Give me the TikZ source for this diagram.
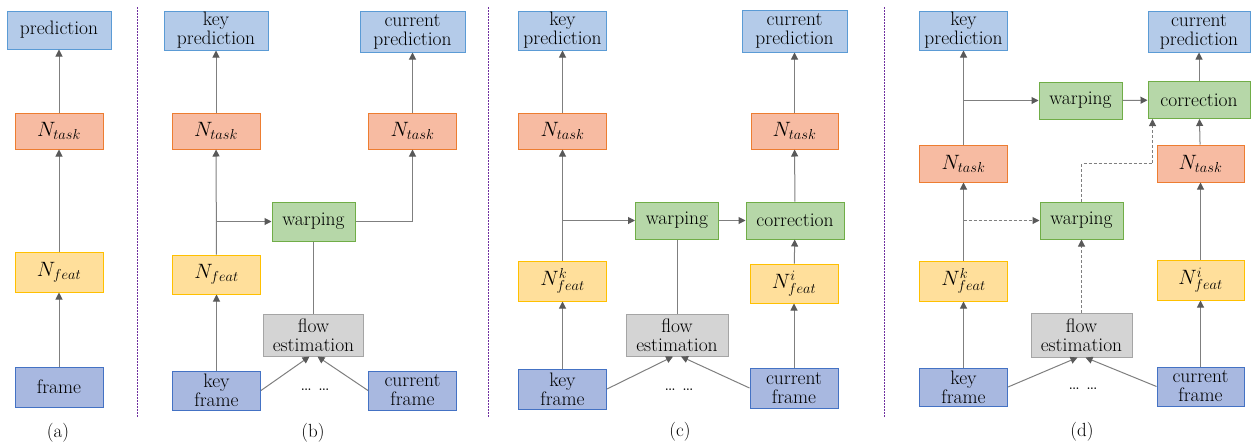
\documentclass[tikz,border=0pt]{standalone}
\usetikzlibrary{arrows.meta}

\definecolor{predfill}{HTML}{B4CBE9}
\definecolor{preddraw}{HTML}{5B9BD5}
\definecolor{taskfill}{HTML}{F7BBA2}
\definecolor{taskdraw}{HTML}{ED7D31}
\definecolor{featfill}{HTML}{FFDF9B}
\definecolor{featdraw}{HTML}{FFC000}
\definecolor{framefill}{HTML}{A8B8E0}
\definecolor{framedraw}{HTML}{4472C4}
\definecolor{warpfill}{HTML}{B6D7A8}
\definecolor{warpdraw}{HTML}{70AD47}
\definecolor{flowfill}{HTML}{D4D4D4}
\definecolor{flowdraw}{HTML}{A5A5A5}
\definecolor{linkgray}{HTML}{7F7F7F}
\definecolor{sepviolet}{HTML}{7030A0}

\tikzset{
	box/.style={draw, line width=1pt, minimum width=88, minimum height=38, inner sep=0pt, align=center, font=\rmfamily\fontsize{19.5}{19}\selectfont},
	predbox/.style={box, fill=predfill, draw=preddraw},
	taskbox/.style={box, fill=taskfill, draw=taskdraw},
	featbox/.style={box, fill=featfill, draw=featdraw},
	framebox/.style={box, fill=framefill, draw=framedraw},
	warpbox/.style={box, fill=warpfill, draw=warpdraw},
	flowbox/.style={box, fill=flowfill, draw=flowdraw},
	link/.style={line width=1pt, color=linkgray},
	arr/.style={link, -{Triangle[length=7pt,width=7pt,color=black!65]}},
	darr/.style={arr, dash pattern=on 3pt off 2pt},
	sepline/.style={line width=1pt, color=sepviolet, dash pattern=on 1.5pt off 1.5pt},
	caption/.style={font=\rmfamily\fontsize{19}{19}\selectfont},
	dotsnode/.style={font=\rmfamily\fontsize{20}{19}\selectfont}
}

\begin{document}
\begin{tikzpicture}[x=1pt, y=-1pt]
		%%%%% START %%%%%
		\useasboundingbox (0, 0) rectangle (1251, 445);
		
		% separators
		\draw[sepline] (137, 7) -- (137, 418);
		\draw[sepline] (488, 7) -- (488, 418);
		\draw[sepline] (884, 7) -- (884, 418);
		
		%%%%% (a) %%%%%
		\node[predbox, minimum width=104] (pa) at (59, 30) {prediction};
		\node[taskbox, minimum height=36] (ta) at (59, 131) {$N_{task}$};
		\node[featbox, minimum height=40] (fa) at (59, 272) {$N_{feat}$};
		\node[framebox, minimum height=40] (fra) at (59, 387) {frame};
		\node[caption] (capa) at (58, 433) {(a)};
		
		\draw[arr] (fra) -- (fa);
		\draw[arr] (fa) -- (ta);
		\draw[arr] (ta) -- (pa);
		
		%%%%% (b) %%%%%
		\node[predbox, minimum width=104, minimum height=39] (pkb) at (216, 30.5) {key\\prediction};
		\node[predbox, minimum width=105, minimum height=41] (pcb) at (412.5, 31.5) {current\\prediction};
		\node[taskbox, minimum height=36] (tkb) at (216, 131) {$N_{task}$};
		\node[taskbox, minimum height=36] (tcb) at (412.5, 131) {$N_{task}$};
		\node[warpbox, minimum width=83, minimum height=39] (wb) at (313.5, 221.5) {warping};
		\node[featbox, minimum height=39] (fb) at (216.5, 274.5) {$N_{feat}$};
		\node[flowbox, minimum width=100, minimum height=42] (flb) at (313.5, 335) {flow\\estimation};
		\node[framebox, minimum height=39] (kfb) at (216.5, 390.5) {key\\frame};
		\node[framebox, minimum height=39] (cfb) at (412.5, 390.5) {current\\frame};
		\node[dotsnode] (dotsb) at (315, 390) {\dots\ \dots};
		\node[caption] (capb) at (313, 433) {(b)};
		
		\coordinate (jb) at (fb.north |- wb.west);
		\draw[arr] (kfb) -- (fb);
		\draw[arr] (fb) -- (tkb);
		\draw[arr] (tkb) -- (pkb);
		\draw[arr] (jb) -- (wb);
		\draw[arr] (wb.east) -- (tcb.south |- wb.east) -- (tcb.south);
		\draw[arr] (tcb) -- (pcb);
		\draw[link] (wb) -- (flb);
		\draw[arr] (kfb.east) -- ([xshift=-4]flb.south);
		\draw[arr] (cfb.west) -- ([xshift=4]flb.south);
		
		%%%%% (c) %%%%%
		\node[predbox, minimum height=39] (pkc) at (562.5, 30.5) {key\\prediction};
		\node[predbox, minimum width=105, minimum height=42] (pcc) at (794.5, 31) {current\\prediction};
		\node[taskbox, minimum height=36] (tkc) at (562.5, 131) {$N_{task}$};
		\node[taskbox, minimum width=87, minimum height=36] (tcc) at (794.5, 131) {$N_{task}$};
		\node[warpbox, minimum width=83, minimum height=37] (wc) at (677, 220.5) {warping};
		\node[warpbox, minimum width=98, minimum height=37] (cc) at (795, 220.5) {correction};
		\node[featbox, minimum height=40] (fkc) at (562.5, 281) {$N^{k}_{feat}$};
		\node[featbox, minimum height=39] (fic) at (794, 283.5) {$N^{i}_{feat}$};
		\node[flowbox, minimum width=102, minimum height=42] (flc) at (677, 335) {flow\\estimation};
		\node[framebox, minimum height=40] (kfc) at (562.5, 389) {key\\frame};
		\node[framebox, minimum height=40] (cfc) at (794, 388) {current\\frame};
		\node[dotsnode] (dotsc) at (679, 390) {\dots\ \dots};
		\node[caption] (capc) at (680, 432) {(c)};
		
		\coordinate (jc) at (fkc.north |- wc.west);
		\draw[arr] (kfc) -- (fkc);
		\draw[arr] (fkc) -- (tkc);
		\draw[arr] (tkc) -- (pkc);
		\draw[arr] (jc) -- (wc);
		\draw[arr] (wc) -- (cc);
		\draw[arr] (cfc) -- (fic);
		\draw[arr] (fic) -- (cc);
		\draw[arr] (cc) -- (tcc);
		\draw[arr] (tcc) -- (pcc);
		\draw[link] (wc) -- (flc);
		\draw[arr] (kfc.east) -- ([xshift=-4]flc.south);
		\draw[arr] (cfc.west) -- ([xshift=4]flc.south);
		
		%%%%% (d) %%%%%
		\node[predbox, minimum height=39] (pkd) at (963.5, 30.5) {key\\prediction};
		\node[predbox, minimum width=102, minimum height=41] (pcd) at (1199, 31.5) {current\\prediction};
		\node[warpbox, minimum width=83, minimum height=37] (wd1) at (1080.5, 100.5) {warping};
		\node[warpbox, minimum width=102, minimum height=37] (cd) at (1199, 100) {correction};
		\node[taskbox, minimum height=37] (tkd) at (963.5, 163.5) {$N_{task}$};
		\node[taskbox, minimum width=87, minimum height=37] (tcd) at (1200.5, 163.5) {$N_{task}$};
		\node[warpbox, minimum width=83, minimum height=37] (wd2) at (1081.5, 220.5) {warping};
		\node[featbox, minimum height=40] (fkd) at (963.5, 281) {$N^{k}_{feat}$};
		\node[featbox, minimum width=87, minimum height=40] (fid) at (1200.5, 280) {$N^{i}_{feat}$};
		\node[flowbox, minimum width=101, minimum height=44] (fld) at (1081.5, 335) {flow\\estimation};
		\node[framebox, minimum height=38] (kfd) at (963.5, 387) {key\\frame};
		\node[framebox, minimum width=87, minimum height=39] (cfd) at (1200.5, 386.5) {current\\frame};
		\node[dotsnode] (dotsd) at (1083, 389) {\dots\ \dots};
		\node[caption] (capd) at (1082, 432) {(d)};
		
		\coordinate (jd1) at (tkd.north |- wd1.west);
		\coordinate (jd2) at (fkd.north |- wd2.west);
		\coordinate (cdin) at ([xshift=5]cd.south west);
		\draw[arr] (kfd) -- (fkd);
		\draw[arr] (fkd) -- (tkd);
		\draw[arr] (tkd) -- (pkd);
		\draw[arr] (jd1) -- (wd1);
		\draw[darr] (jd2) -- (wd2);
		\draw[arr] (wd1) -- (cd);
		\draw[darr] (wd2.north) -- (wd2.north |- tkd) -- (cdin |- tkd) -- (cdin);
		\draw[arr] (cfd) -- (fid);
		\draw[arr] (fid) -- (tcd);
		\draw[arr] (tcd) -- (cd);
		\draw[arr] (cd) -- (pcd);
		\draw[darr] (fld) -- (wd2);
		\draw[arr] (kfd.east) -- ([xshift=-4]fld.south);
		\draw[arr] (cfd.west) -- ([xshift=4]fld.south);
		
		%%%%% END %%%%%
	\end{tikzpicture}
\end{document}
